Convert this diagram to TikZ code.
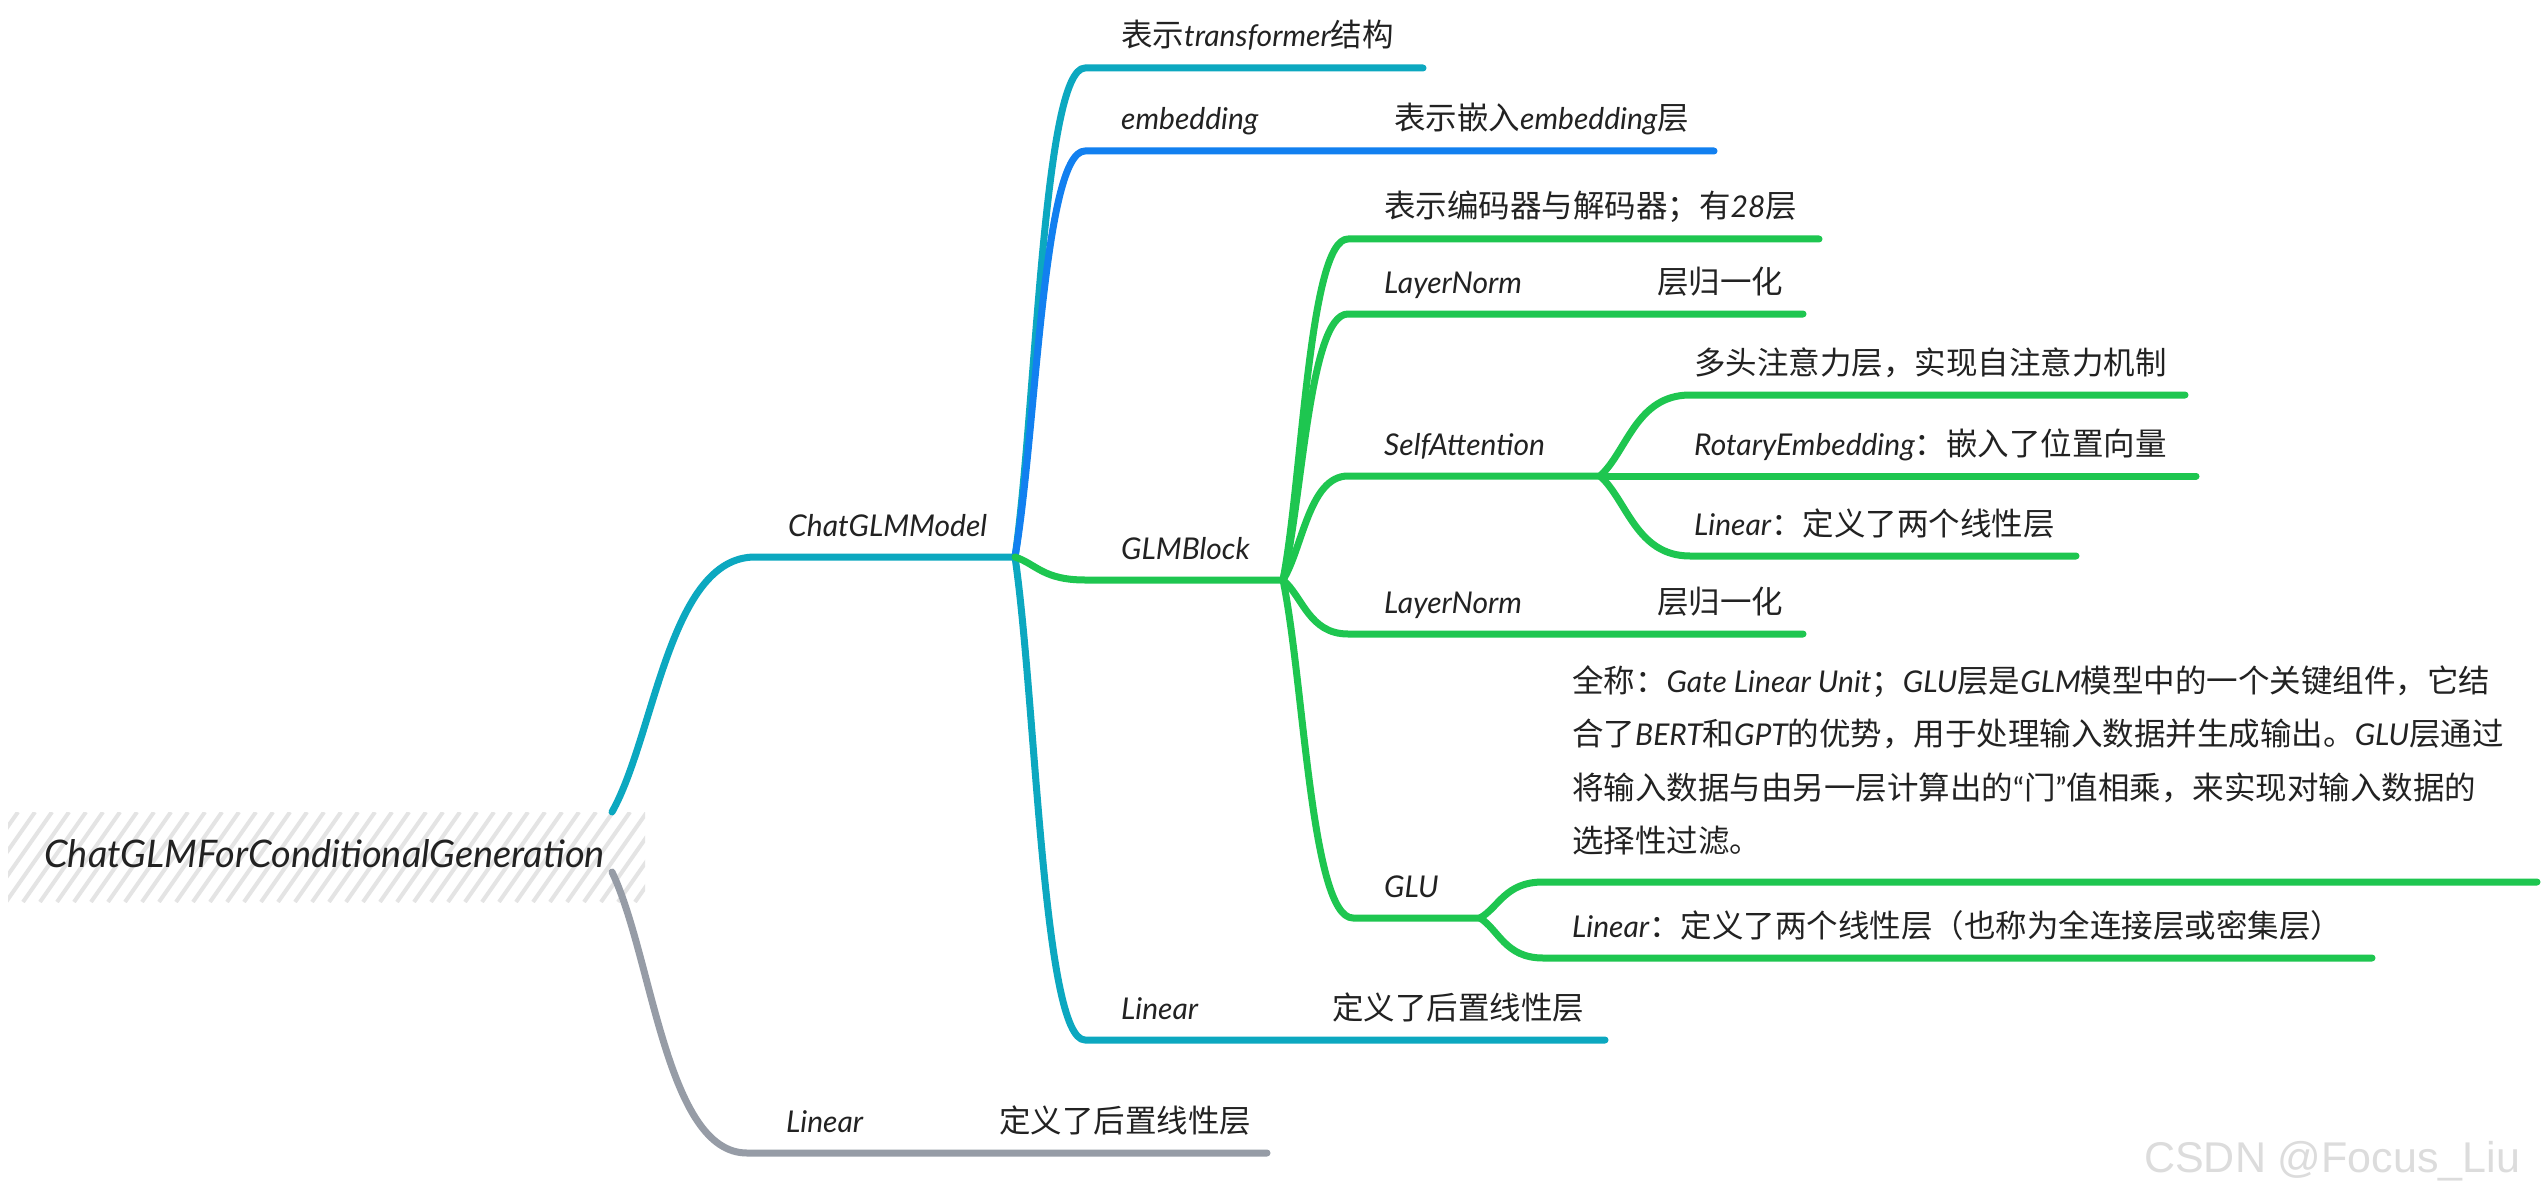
\documentclass[tikz,border=0pt]{standalone}
\usepackage{fontspec}
\setmainfont{Lato}
\newfontfamily\cjk{Noto Sans CJK SC}[Scale=1.05]
\newfontfamily\wmfont{Liberation Sans}
\usetikzlibrary{calc}
\definecolor{teal1}{RGB}{12,168,192}
\definecolor{blue1}{RGB}{18,128,240}
\definecolor{green1}{RGB}{30,198,80}
\definecolor{gray1}{RGB}{150,156,166}
\definecolor{ink}{RGB}{34,34,34}
\definecolor{hatchc}{RGB}{228,228,228}
\definecolor{wmark}{RGB}{220,220,220}
\newcommand\zh[1]{{\cjk\upshape #1}}
\newcommand\brc[4]{\draw[br,#1] (#2) .. controls ($(#2)!0.3!(#3)$) and ($(#2 |- #3)!0.4!(#3)$) .. (#3) -- (#4);}
\begin{document}
\begin{tikzpicture}[x=1pt,y=-1pt,
  txt/.style={anchor=base west, inner sep=0pt, text=ink, font=\fontsize{30}{36}\selectfont\itshape},
  br/.style={line width=7pt, line cap=round, line join=round}]
\useasboundingbox (0,0) rectangle (2547,1198);
\fill[white] (0,0) rectangle (2547,1198);
% root hatch
\begin{scope}
\clip (8,812) rectangle (645,902);
\foreach \i in {0,...,42} \draw[hatchc, line width=4pt] ({8+\i*17-70},902) -- ++(63,-90);
\end{scope}
\node[txt, font=\fontsize{38}{44}\selectfont\itshape] (root) at (44,867) {ChatGLMForConditionalGeneration};
% coordinates
\coordinate (rup) at (612,812);
\coordinate (rdn) at (612,872);
\coordinate (s1) at (755,557);
\coordinate (j1) at (1015,557);
\coordinate (t1s) at (1085,68);   \coordinate (t1e) at (1423,68);
\coordinate (ems) at (1085,151);  \coordinate (eme) at (1714,151);
\coordinate (gbs) at (1085,580);  \coordinate (j2) at (1283,580);
\coordinate (l1s) at (1085,1040); \coordinate (l1e) at (1605,1040);
\coordinate (l0s) at (747,1153);  \coordinate (l0e) at (1267,1153);
\coordinate (eds) at (1348,239);  \coordinate (ede) at (1819,239);
\coordinate (n1s) at (1348,314);  \coordinate (n1e) at (1803,314);
\coordinate (sas) at (1348,476);  \coordinate (j3) at (1600,476);
\coordinate (n2s) at (1348,634);  \coordinate (n2e) at (1803,634);
\coordinate (gus) at (1353,918);  \coordinate (j4) at (1480,918);
\coordinate (mhs) at (1690,395);  \coordinate (mhe) at (2185,395);
\coordinate (ree) at (2196,476);
\coordinate (lis) at (1690,556);  \coordinate (lie) at (2076,556);
\coordinate (gds) at (1543,882);  \coordinate (gde) at (2537,882);
\coordinate (gls) at (1543,958);  \coordinate (gle) at (2372,958);
% connectors
\brc{teal1}{rup}{s1}{j1}
\brc{gray1}{rdn}{l0s}{l0e}
\brc{teal1}{j1}{t1s}{t1e}
\brc{blue1}{j1}{ems}{eme}
\brc{teal1}{j1}{l1s}{l1e}
\brc{green1}{j1}{gbs}{j2}
\brc{green1}{j2}{eds}{ede}
\brc{green1}{j2}{n1s}{n1e}
\brc{green1}{j2}{sas}{j3}
\brc{green1}{j2}{n2s}{n2e}
\brc{green1}{j2}{gus}{j4}
\brc{green1}{j3}{mhs}{mhe}
\draw[br,green1] (j3) -- (ree);
\brc{green1}{j3}{lis}{lie}
\brc{green1}{j4}{gds}{gde}
\brc{green1}{j4}{gls}{gle}
% labels
\node[txt] (cgm) at (788,536) {ChatGLMModel};
\node[txt] (tr) at (1121,47) {\zh{表示}transformer\zh{结构}};
\node[txt] (emb) at (1121,130) {embedding};
\node[txt] (embd) at (1394,130) {\zh{表示嵌入}embedding\zh{层}};
\node[txt] (glmb) at (1121,559) {GLMBlock};
\node[txt] (lin1) at (1121,1019) {Linear};
\node[txt] (lin1d) at (1332,1019) {\zh{定义了后置线性层}};
\node[txt] (lin0) at (786,1132) {Linear};
\node[txt] (lin0d) at (999,1132) {\zh{定义了后置线性层}};
\node[txt] (encd) at (1384,218) {\zh{表示编码器与解码器；有}28\zh{层}};
\node[txt] (ln1) at (1384,293) {LayerNorm};
\node[txt] (ln1d) at (1657,293) {\zh{层归一化}};
\node[txt] (sa) at (1384,455) {SelfAttention};
\node[txt] (ln2) at (1384,613) {LayerNorm};
\node[txt] (ln2d) at (1657,613) {\zh{层归一化}};
\node[txt] (glu) at (1384,897) {GLU};
\node[txt] (mh) at (1694,374) {\zh{多头注意力层，实现自注意力机制}};
\node[txt] (re) at (1694,455) {RotaryEmbedding\zh{：嵌入了位置向量}};
\node[txt] (li) at (1694,535) {Linear\zh{：定义了两个线性层}};
\node[txt] (gda) at (1572,692) {\zh{全称：}Gate Linear Unit\zh{；}GLU\zh{层是}GLM\zh{模型中的一个关键组件，它结}};
\node[txt] (gdb) at (1572,745) {\zh{合了}BERT\zh{和}GPT\zh{的优势，用于处理输入数据并生成输出。}GLU\zh{层通过}};
\node[txt] (gdc) at (1572,799) {\zh{将输入数据与由另一层计算出的}\upshape “\zh{门}”\zh{值相乘，来实现对输入数据的}};
\node[txt] (gdd) at (1572,852) {\zh{选择性过滤。}};
\node[txt] (gl) at (1572,937) {Linear\zh{：定义了两个线性层（也称为全连接层或密集层）}};
\node[anchor=base west, inner sep=0pt, text=wmark, font=\wmfont\fontsize{43}{48}\selectfont] (wm) at (2144,1172) {CSDN @Focus\_Liu};
\end{tikzpicture}
\end{document}
